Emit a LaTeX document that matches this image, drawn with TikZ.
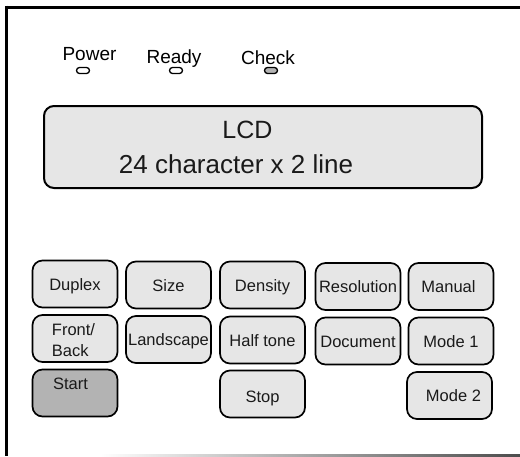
\documentclass[tikz,border=0pt]{standalone}
\usepackage{fontspec}
\setmainfont{Liberation Sans}
\definecolor{panelgray}{HTML}{E6E6E6}
\definecolor{startgray}{HTML}{B3B3B3}
\definecolor{inkgray}{HTML}{1A1A1A}

\begin{document}
\begin{tikzpicture}[x=1pt,y=-1pt,
    key/.style={draw=black,line width=1.7pt,fill=panelgray,rounded corners=10pt,
      minimum width=85pt,minimum height=47pt,inner sep=0pt,text=inkgray,
      font=\fontsize{16.5}{20}\selectfont,text height=12pt,text depth=0pt},
    led/.style={draw=black,line width=1.3pt,fill=white,rounded corners=3pt,
      minimum width=13pt,minimum height=6pt,inner sep=0pt},
    ledtext/.style={anchor=base,text=black,font=\fontsize{19}{22}\selectfont,inner sep=0pt},
    lcdtext/.style={anchor=base,text=inkgray,inner sep=0pt}]
    \useasboundingbox (0,0) rectangle (520,456);
    \fill[white] (0,0) rectangle (520,456);

    % frame
    \draw[line width=3pt] (5,7) -- (520,7);
    \draw[line width=3pt] (6.5,5.5) -- (6.5,456);
    \shade[left color=white,right color=black!70] (100,454) rectangle (520,456);

    % indicators
    \node[ledtext] (powertxt) at (89.5,60.5) {Power};
    \node[ledtext] (readytxt) at (174,63) {Ready};
    \node[ledtext] (checktxt) at (268,64.5) {Check};
    \node[led] (power) at (83,70.5) {};
    \node[led] (ready) at (176,70.5) {};
    \node[led,fill=startgray] (check) at (271,70.5) {};

    % display
    \node[draw=black,line width=2pt,fill=panelgray,rounded corners=10pt,
      minimum width=438pt,minimum height=82pt] (lcd) at (263,147) {};
    \node[lcdtext,font=\fontsize{25}{30}\selectfont] (lcdname) at (247.5,138) {LCD};
    \node[lcdtext,font=\fontsize{26}{30}\selectfont] (lcdsize) at (236,173) {24 character x 2 line};

    % keys, first row
    \node[key] (duplex) at (75,284) {Duplex};
    \node[key] (size) at (168.5,285) {Size};
    \node[key] (density) at (262.5,285) {Density};
    \node[key] (resolution) at (358,286.5) {Resolution};
    \node[key] (manual) at (451,286.5) {\hspace{-5pt}Manual};

    % second row
    \node[key] (frontback) at (75,338.5) {};
    \node[align=left,text=inkgray,font=\fontsize{16.5}{20.5}\selectfont,inner sep=0pt]
      (fbtxt) at (73.5,340) {Front/\\Back};
    \node[key] (landscape) at (168.5,339.5) {Landscape};
    \node[key] (halftone) at (262.5,340) {Half tone};
    \node[key] (document) at (358,341) {Document};
    \node[key] (mode1) at (451,341) {Mode 1};

    % third row
    \node[key,fill=startgray] (start) at (75,393) {};
    \node[text=inkgray,font=\fontsize{16.5}{20}\selectfont,inner sep=0pt,
      text height=12pt,text depth=0pt] (starttxt) at (70.5,383) {Start};
    \node[key] (stop) at (262.5,394) {\raisebox{-2pt}{Stop}};
    \node[key] (mode2) at (449.5,395.5) {\hspace{8pt}Mode 2};
\end{tikzpicture}
\end{document}
